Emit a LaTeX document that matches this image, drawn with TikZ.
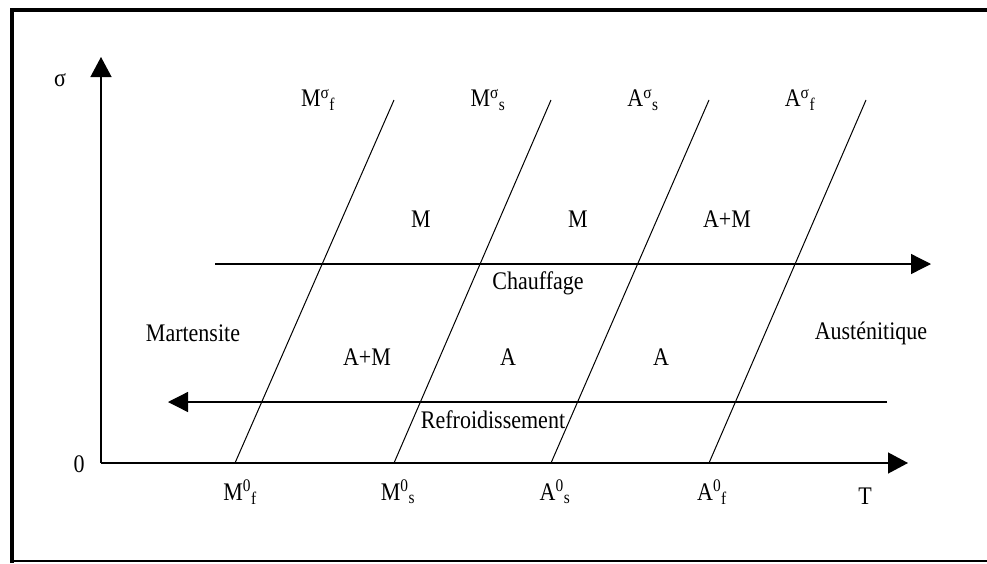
\documentclass[tikz,border=0pt]{standalone}
\usepackage{fontspec}
\usepackage{graphicx}
\setmainfont{Liberation Serif}
\usetikzlibrary{arrows.meta}
\newcommand{\tall}[1]{\scalebox{1}[1.15]{#1}}
\tikzset{
  axis/.style={line width=1.3pt,-{Triangle[length=20pt,width=21pt]}},
  flow/.style={line width=1.3pt,-{Triangle[length=20pt,width=20pt]}},
  bound/.style={line width=1pt},
  lab/.style={font=\fontsize{22}{24}\selectfont, inner sep=0pt}
}
\begin{document}
\begin{tikzpicture}[x=1pt,y=-1pt]
\useasboundingbox (0,0) rectangle (987,563);
\fill[white] (0,0) rectangle (987,563);
% frame
\coordinate (fbl) at (12,563);
\coordinate (ftl) at (12,10);
\coordinate (ftr) at (987,10);
\coordinate (fb1) at (12,561);
\coordinate (fb2) at (987,561);
\draw[line width=4pt] (fbl) -- (ftl) -- (ftr);
\draw[line width=1.2pt] (fb1) -- (fb2);
% axes
\coordinate (O) at (101,463);
\coordinate (Yt) at (101,57);
\coordinate (Xt) at (908,463);
\draw[axis] (O) -- (Yt);
\draw[axis] (O) -- (Xt);
% boundary lines
\coordinate (b1) at (235,463); \coordinate (t1) at (394,100);
\coordinate (b2) at (394,463); \coordinate (t2) at (551,100);
\coordinate (b3) at (551,463); \coordinate (t3) at (709,100);
\coordinate (b4) at (709,463); \coordinate (t4) at (866,100);
\draw[bound] (b1) -- (t1);
\draw[bound] (b2) -- (t2);
\draw[bound] (b3) -- (t3);
\draw[bound] (b4) -- (t4);
% heating / cooling arrows
\coordinate (hs) at (215,264); \coordinate (he) at (931,264);
\coordinate (cs) at (887,402); \coordinate (ce) at (168,402);
\draw[flow] (hs) -- (he);
\draw[flow] (cs) -- (ce);
% labels
\node[lab] (sig) at (60,80) {\tall{σ}};
\node[lab] (zero) at (79,464) {\tall{0}};
\node[lab] (T) at (865,496) {\tall{T}};
\node[lab] (mfs) at (318,100) {\tall{M\textsuperscript{σ}\textsubscript{f}}};
\node[lab] (mss) at (488,100) {\tall{M\textsuperscript{σ}\textsubscript{s}}};
\node[lab] (ass) at (643,100) {\tall{A\textsuperscript{σ}\textsubscript{s}}};
\node[lab] (afs) at (800,100) {\tall{A\textsuperscript{σ}\textsubscript{f}}};
\node[lab] (mf0) at (240,492) {\tall{M\textsuperscript{0}\textsubscript{f}}};
\node[lab] (ms0) at (398,492) {\tall{M\textsuperscript{0}\textsubscript{s}}};
\node[lab] (as0) at (555,492) {\tall{A\textsuperscript{0}\textsubscript{s}}};
\node[lab] (af0) at (712,492) {\tall{A\textsuperscript{0}\textsubscript{f}}};
\node[lab] (r1) at (421,219) {\tall{M}};
\node[lab] (r2) at (578,219) {\tall{M}};
\node[lab] (r3) at (727,219) {\tall{A+M}};
\node[lab] (chauf) at (538,283) {\tall{Chauffage}};
\node[lab] (mart) at (193,333) {\tall{Martensite}};
\node[lab] (aust) at (871,333) {\tall{Austénitique}};
\node[lab] (r4) at (367,357) {\tall{A+M}};
\node[lab] (r5) at (508,357) {\tall{A}};
\node[lab] (r6) at (661,357) {\tall{A}};
\node[lab] (refr) at (493,420) {\tall{Refroidissement}};
\end{tikzpicture}
\end{document}
